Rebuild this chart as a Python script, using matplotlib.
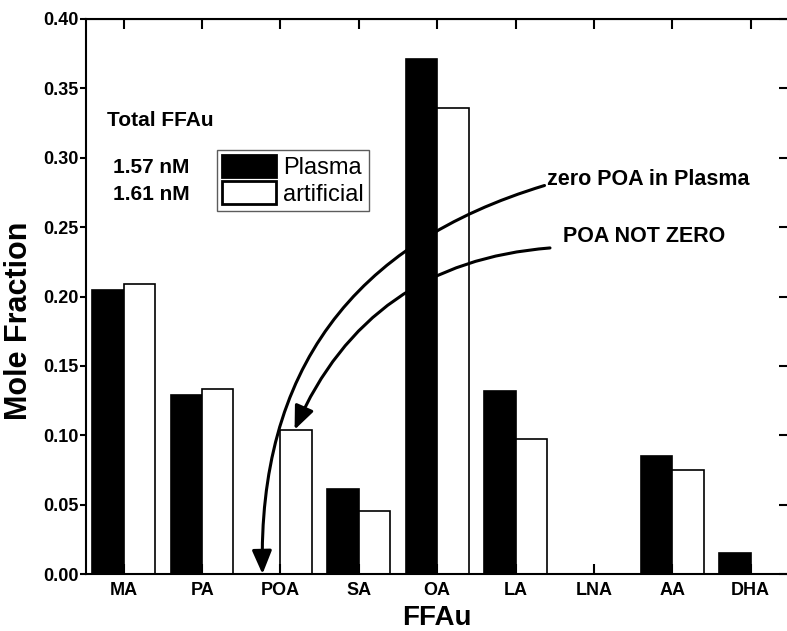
import numpy as np
import matplotlib
matplotlib.use('Agg')
import matplotlib.pyplot as plt

plt.rcParams['font.family'] = ['Liberation Sans', 'DejaVu Sans']

# Data
acids = ['MA', 'PA', 'POA', 'SA', 'OA', 'LA', 'LNA', 'AA', 'DHA']
plasma = [0.205, 0.129, 0.0, 0.0615, 0.371, 0.132, 0.0, 0.0853, 0.0154]
artificial = [0.209, 0.133, 0.104, 0.0455, 0.336, 0.0975, 0.0, 0.0750, 0.0]
yticks = [0.00, 0.05, 0.10, 0.15, 0.20, 0.25, 0.30, 0.35, 0.40]

x = np.arange(len(acids))
w = 0.4

fig = plt.figure(figsize=(7.87, 6.31), dpi=100)
ax = fig.add_axes([0.109, 0.0903, 0.893, 0.8796])

ax.bar(x - w / 2, plasma, w, color='black', edgecolor='black', linewidth=1.2, label='Plasma')
ax.bar(x + w / 2, artificial, w, color='white', edgecolor='black', linewidth=1.2, label='artificial')

ax.set_xlim(-0.485, 8.485)
ax.set_ylim(0, 0.40)
ax.set_xticks(x)
ax.set_xticklabels(acids, fontsize=13, fontweight='bold')
ax.set_yticks(yticks)
ax.set_yticklabels([f'{v:.2f}' for v in yticks], fontsize=13, fontweight='bold')

for s in ax.spines.values():
    s.set_linewidth(1.5)

ax.tick_params(axis='x', direction='in', length=7, width=1.5, pad=6)
ax.tick_params(axis='y', direction='out', length=4, width=1.5, pad=1)

# inward ticks on top and right
top = ax.secondary_xaxis('top')
top.set_xticks(x)
top.tick_params(direction='in', length=7, width=1.5, labeltop=False)
right = ax.secondary_yaxis('right')
right.set_yticks(yticks)
right.tick_params(direction='in', length=7, width=1.5, labelright=False)

ax.set_ylabel('Mole Fraction', fontsize=22, fontweight='bold')
ax.yaxis.set_label_coords(-0.074, 0.456)
ax.set_xlabel('FFAu', fontsize=20, fontweight='bold')
ax.xaxis.set_label_coords(0.5, -0.056)

leg = ax.legend(loc='upper left', bbox_to_anchor=(0.187, 0.764), borderaxespad=0,
                fontsize=17, frameon=True, fancybox=False, edgecolor='#333333',
                handlelength=2.3, handleheight=1.1, handletextpad=0.3,
                labelspacing=0.1, borderpad=0.2)
leg.get_frame().set_linewidth(1.0)
for h in leg.legend_handles:
    h.set_linewidth(2)

ax.text(0.030, 0.818, 'Total FFAu', transform=ax.transAxes, fontsize=15,
        fontweight='bold', va='center', ha='left')
ax.text(0.0384, 0.733, '1.57 nM', transform=ax.transAxes, fontsize=15,
        fontweight='bold', va='center', ha='left')
ax.text(0.0384, 0.683, '1.61 nM', transform=ax.transAxes, fontsize=15,
        fontweight='bold', va='center', ha='left')

# annotations with curved arrows
poa = acids.index('POA')
ax.text(5.40, 0.284, 'zero POA in Plasma', fontsize=15.5, fontweight='bold',
        va='center', ha='left')
ax.text(5.60, 0.243, 'POA NOT ZERO', fontsize=15.5, fontweight='bold',
        va='center', ha='left')
arrow = dict(arrowstyle='-|>,head_length=0.95,head_width=0.4', color='black',
             lw=2.2, mutation_scale=15, shrinkA=0, shrinkB=0)
ax.annotate('', xy=(poa - 0.23, plasma[poa]), xytext=(5.37, 0.280),
            arrowprops=dict(arrow, connectionstyle='arc3,rad=0.38'))
ax.annotate('', xy=(poa + 0.18, artificial[poa]), xytext=(5.44, 0.235),
            arrowprops=dict(arrow, connectionstyle='arc3,rad=0.3'))

fig.savefig('out.png', dpi=100)
